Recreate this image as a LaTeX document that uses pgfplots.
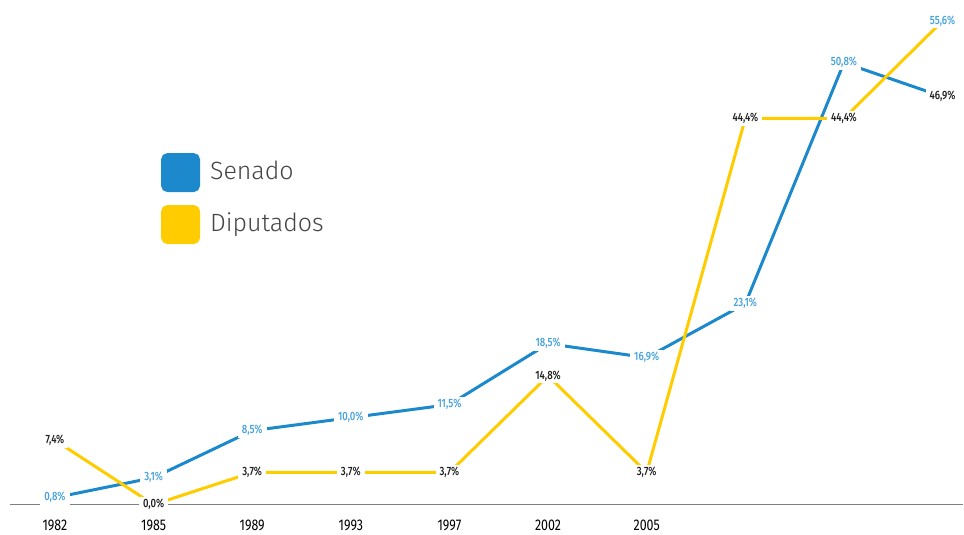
\documentclass[border=0pt]{standalone}
\usepackage{pgfplots}
\pgfplotsset{compat=1.18}
\usepackage{fontspec}
\setmainfont{Fira Sans}
\newfontfamily\cond[FakeStretch=0.8]{Fira Sans Medium}
\newfontfamily\condreg[FakeStretch=0.8]{Fira Sans}
\newfontfamily\light{Fira Sans Light}
\definecolor{senado}{HTML}{1B89CC}
\definecolor{senlabel}{HTML}{46A2DC}
\definecolor{dip}{HTML}{FFCC00}
\definecolor{axisgray}{HTML}{808080}
\definecolor{legtext}{HTML}{444444}
\definecolor{labblack}{HTML}{1E1E1E}
\begin{document}
\begin{tikzpicture}
\begin{axis}[
  set layers,
  scale only axis, width=954pt, height=505pt,
  xmin=-0.4561, xmax=9.2097, ymin=0, ymax=58.01,
  axis x line*=bottom, axis y line=none,
  x axis line style={draw=axisgray, line width=1.5pt},
  xtick={0,...,6}, xticklabels={1982,1985,1989,1993,1997,2002,2005},
  major tick length=0pt,
  xticklabel style={font=\condreg\fontsize{15.5}{17}\selectfont, yshift=-12pt, text=black},
  clip=false,
  legend style={at={(0.1583,0.697)}, anchor=north west, draw=none, fill=none,
    inner sep=0pt, row sep=13pt, font=\light\fontsize{25}{30}\selectfont, text=legtext,
    nodes={inner sep=0pt},
    /tikz/every odd column/.append style={column sep=10pt}},
  legend cell align=left,
  legend image code/.code={\fill[#1, rounded corners=5pt] (0pt,-20pt) rectangle (36pt,16pt);},
]
\addplot[senado, line width=3pt, mark=none] coordinates {
  (0,0.8) (1,3.1) (2,8.5) (3,10.0) (4,11.5) (5,18.5) (6,16.9) (7,23.1) (8,50.8) (9,46.9)};
\addlegendentry{Senado}
\addplot[dip, line width=3pt, mark=none] coordinates {
  (0,7.4) (1,0.0) (2,3.7) (3,3.7) (4,3.7) (5,14.8) (6,3.7) (7,44.4) (8,44.4) (9,55.6)};
\addlegendentry{Diputados}
% blue labels
\addplot[forget plot, draw=none, mark=none, nodes near coords, point meta=explicit symbolic,
  nodes near coords align=center,
  every node near coord/.append style={fill=white, inner xsep=4pt, inner ysep=2pt,
    text=senlabel, font=\cond\fontsize{12}{14}\selectfont}]
  coordinates {
  (0,0.8) [0,8\%] (1,3.1) [3,1\%] (2,8.5) [8,5\%] (3,10.0) [10,0\%] (4,11.5) [11,5\%]
  (5,18.5) [18,5\%] (6,16.9) [16,9\%] (7,23.1) [23,1\%] (8,50.8) [50,8\%] (9,55.6) [55,6\%]};
% black labels
\addplot[forget plot, draw=none, mark=none, nodes near coords, point meta=explicit symbolic,
  nodes near coords align=center,
  every node near coord/.append style={fill=white, inner xsep=4pt, inner ysep=2pt,
    text=labblack, font=\cond\fontsize{12}{14}\selectfont}]
  coordinates {
  (0,7.4) [7,4\%] (1,0.0) [0,0\%] (2,3.7) [3,7\%] (3,3.7) [3,7\%] (4,3.7) [3,7\%]
  (5,14.8) [14,8\%] (6,3.7) [3,7\%] (7,44.4) [44,4\%] (8,44.4) [44,4\%] (9,46.9) [46,9\%]};
\path (axis description cs:-0.01048,-0.0574) rectangle (axis description cs:1,1);
\end{axis}
\end{tikzpicture}
\end{document}
